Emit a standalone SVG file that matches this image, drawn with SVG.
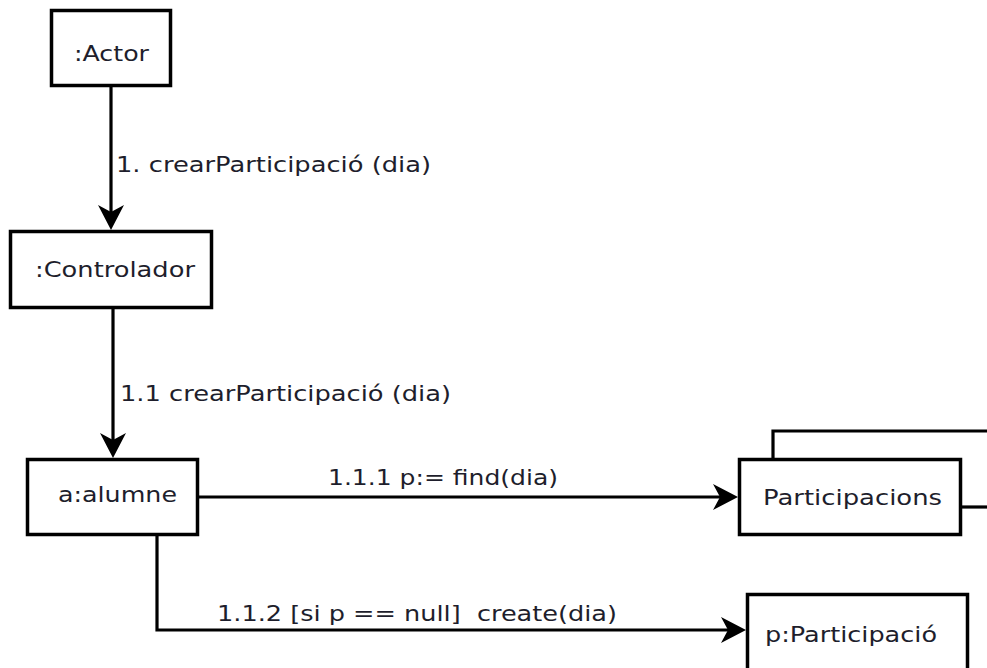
<svg xmlns="http://www.w3.org/2000/svg" width="987" height="668" viewBox="0 0 987 668">
  <style>
    .box { fill: #ffffff; stroke: #000000; stroke-width: 3.5; }
    .wire { fill: none; stroke: #000000; stroke-width: 3.2; }
    .msg { stroke: #000000; stroke-width: 3.2; fill: none; marker-end: url(#dart); }
    text { font-family: "DejaVu Sans", "Liberation Sans", sans-serif; font-size: 20.5px; fill: #1e1e2c; white-space: pre; }
  </style>
  <defs>
    <!-- filled concave arrowhead; the line stops at the notch -->
    <marker id="dart" markerUnits="userSpaceOnUse" viewBox="0 -14 26 28" markerWidth="26" markerHeight="28" refX="7" refY="0" orient="auto">
      <path d="M25,0 L0,-13 L7,0 L0,13 Z" fill="#000000"/>
    </marker>
  </defs>
  <rect width="987" height="668" fill="#ffffff"/>

  <g id="connectors">
    <line class="msg" x1="111" y1="87" x2="111" y2="212"/>
    <line class="msg" x1="113" y1="309" x2="113" y2="440"/>
    <line class="msg" x1="198" y1="497" x2="720" y2="497"/>
    <path class="msg" d="M157,536 V630 H728"/>
    <!-- self link on the collection, running off the right side -->
    <path class="wire" d="M773,459 V431 H990"/>
    <path class="wire" d="M962,507 H990"/>
    <text x="116" y="172" textLength="315" lengthAdjust="spacingAndGlyphs">1. crearParticipació (dia)</text>
    <text x="120" y="401" textLength="331" lengthAdjust="spacingAndGlyphs">1.1 crearParticipació (dia)</text>
    <text x="328" y="485" textLength="230" lengthAdjust="spacingAndGlyphs">1.1.1 p:= find(dia)</text>
    <text x="217" y="621" textLength="400" lengthAdjust="spacingAndGlyphs">1.1.2 [si p == null]  create(dia)</text>
  </g>

  <g id="actor">
    <rect class="box" x="51.5" y="10.5" width="119" height="75"/>
    <text x="74" y="61" textLength="75" lengthAdjust="spacingAndGlyphs">:Actor</text>
  </g>
  <g id="controlador">
    <rect class="box" x="10.5" y="231.5" width="201" height="76"/>
    <text x="35" y="277" textLength="160" lengthAdjust="spacingAndGlyphs">:Controlador</text>
  </g>
  <g id="alumne">
    <rect class="box" x="27.5" y="459.5" width="170" height="75"/>
    <text x="58" y="502" textLength="119" lengthAdjust="spacingAndGlyphs">a:alumne</text>
  </g>
  <g id="participacions">
    <rect class="box" x="739.5" y="459.5" width="221" height="75"/>
    <text x="763" y="505" textLength="179" lengthAdjust="spacingAndGlyphs">Participacions</text>
  </g>
  <g id="participacio">
    <rect class="box" x="747.5" y="594.5" width="220" height="82"/>
    <text x="765" y="642" textLength="172" lengthAdjust="spacingAndGlyphs">p:Participació</text>
  </g>
</svg>
